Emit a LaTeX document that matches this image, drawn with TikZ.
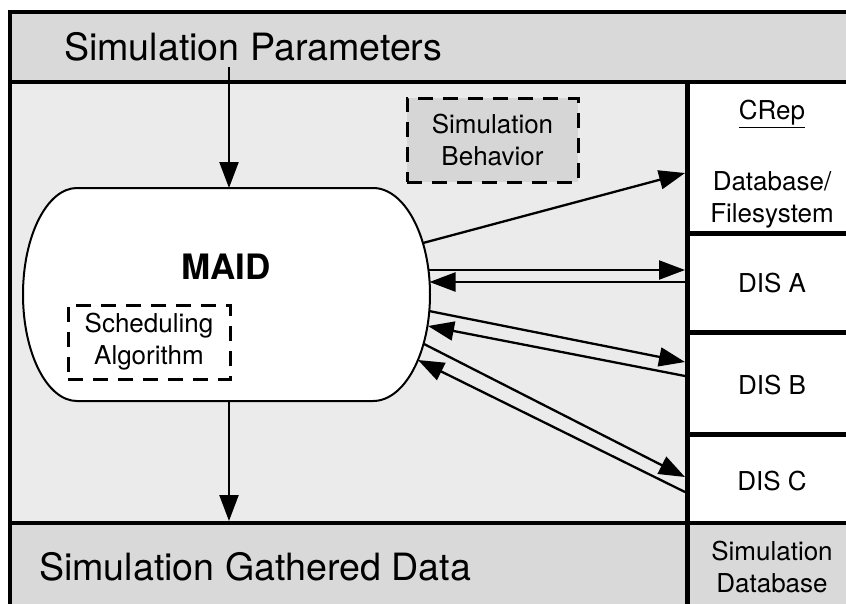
\documentclass[tikz,border=0pt]{standalone}
\usepackage{fontspec}
\setmainfont{TeX Gyre Heros}
\usetikzlibrary{arrows.meta}
\definecolor{bandgray}{HTML}{D9D9D9}
\definecolor{midgray}{HTML}{EBEBEB}
\definecolor{boxgray}{HTML}{D6D6D6}
\begin{document}
\begin{tikzpicture}[x=1pt,y=-1pt,
  frameline/.style={line width=4pt},
  cellline/.style={line width=5pt},
  conn/.style={line width=2.3pt,-{Triangle[length=26pt,width=19pt]}},
  dashbox/.style={draw,line width=3pt,dash pattern=on 15pt off 10pt},
  bigtext/.style={font=\fontsize{37.6}{40}\selectfont,inner sep=0pt},
  smalltext/.style={font=\fontsize{26}{32}\selectfont,align=center,inner sep=0pt},
]
\useasboundingbox (0,0) rectangle (846,603);
\clip (0,0) rectangle (846,603);
% backgrounds
\fill[white] (0,0) rectangle (846,603);
\fill[bandgray] (9.5,12) rectangle (870,82);
\fill[midgray] (9.5,82) rectangle (687,523);
\fill[bandgray] (9.5,523) rectangle (870,640);
% frame lines
\draw[frameline] (9.5,640) -- (9.5,12) -- (870,12);
\draw[frameline] (9.5,82) -- (870,82);
\draw[frameline] (9.5,523) -- (870,523);
\draw[cellline] (687.5,82) -- (687.5,640);
\draw[cellline] (687.5,233) -- (870,233);
\draw[cellline] (687.5,332) -- (870,332);
\draw[cellline] (687.5,434) -- (870,434);
% MAID shape
\draw[line width=2pt,fill=white] (77,188) -- (373,188)
  .. controls (404.5,188) and (430,235.7) .. (430,294.5)
  .. controls (430,353.3) and (404.5,401) .. (373,401)
  -- (77,401)
  .. controls (47.2,401) and (23,353.3) .. (23,294.5)
  .. controls (23,235.7) and (47.2,188) .. (77,188) -- cycle;
\node[font=\fontsize{35}{40}\selectfont\bfseries,inner sep=0pt] (maid) at (226,267) {MAID};
\node[dashbox,fill=white,minimum width=162pt,minimum height=74pt,smalltext] (sched) at (149,342) {Scheduling\\Algorithm};
\node[dashbox,fill=boxgray,minimum width=171pt,minimum height=84pt,smalltext] (behav) at (492.5,140) {Simulation\\Behavior};
% texts
\node[bigtext,anchor=base west] (params) at (64,60) {Simulation Parameters};
\node[bigtext,anchor=base west] (gathered) at (39,580) {Simulation Gathered Data};
\node[smalltext] (crep) at (772,114) {\underline{CRep}};
\node[smalltext] (dbfs) at (772,200) {Database/\\Filesystem};
\node[smalltext] (disA) at (772,283) {DIS A};
\node[smalltext] (disB) at (772,385) {DIS B};
\node[smalltext] (disC) at (772,481) {DIS C};
\node[smalltext] (simdb) at (772,567) {Simulation\\Database};
% connector end points
\coordinate (pTop) at (229,67);
\coordinate (mTop) at (229,188);
\coordinate (mBot) at (229,401);
\coordinate (gTop) at (229,521);
\coordinate (m1) at (423,243);
\coordinate (m2) at (428,270);
\coordinate (m2b) at (429.5,282);
\coordinate (m3) at (429,311);
\coordinate (m3b) at (428,326);
\coordinate (m4) at (424,344);
\coordinate (m4b) at (418,360);
\coordinate (r1) at (685,173);
\coordinate (r2) at (685,270);
\coordinate (r2b) at (685,282);
\coordinate (r3) at (685,362);
\coordinate (r3b) at (685,376);
\coordinate (r4) at (685,477);
\coordinate (r4b) at (685,492);
% connectors
\draw[conn] (pTop) -- (mTop);
\draw[conn] (mBot) -- (gTop);
\draw[conn] (m1) -- (r1);
\draw[conn] (m2) -- (r2);
\draw[conn] (r2b) -- (m2b);
\draw[conn] (m3) -- (r3);
\draw[conn] (r3b) -- (m3b);
\draw[conn] (m4) -- (r4);
\draw[conn] (r4b) -- (m4b);
\end{tikzpicture}
\end{document}
